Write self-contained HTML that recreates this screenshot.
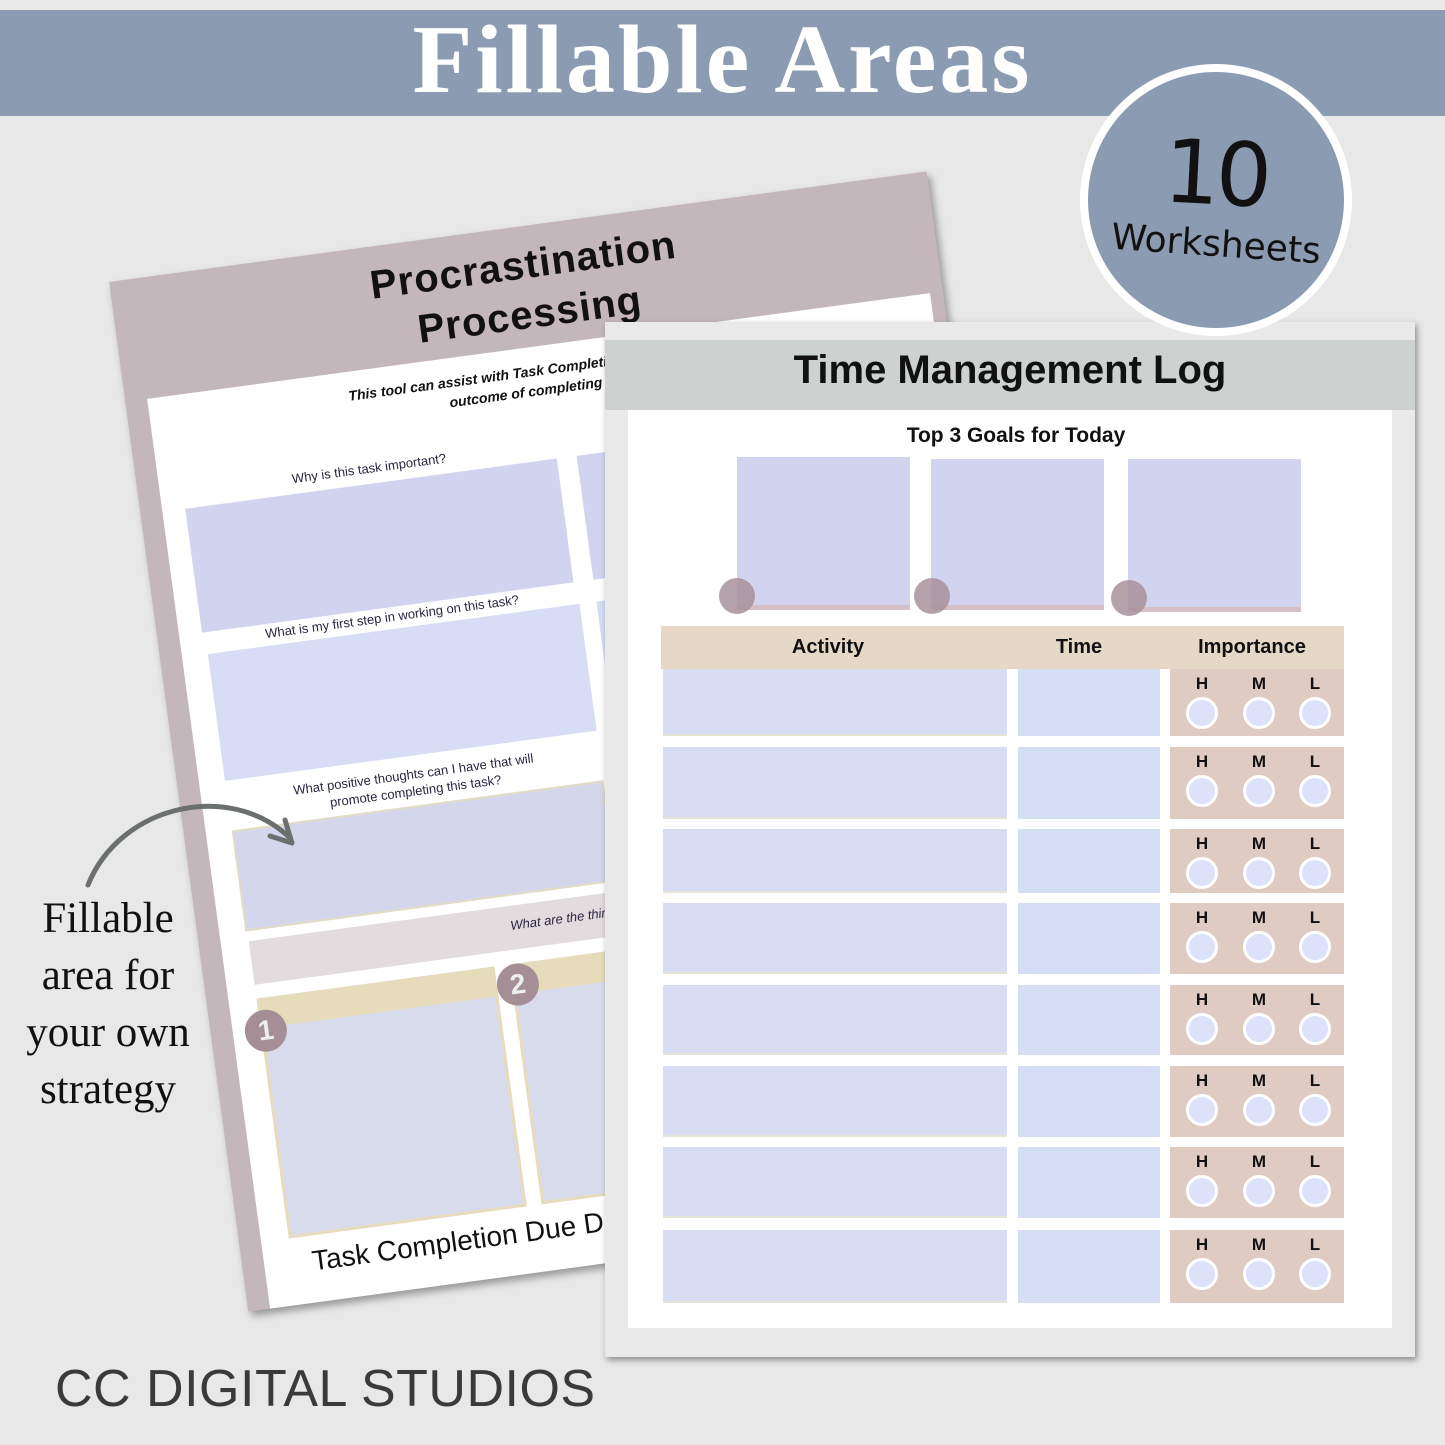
<!DOCTYPE html>
<html><head><meta charset="utf-8"><style>
*{margin:0;padding:0;box-sizing:border-box}
body{width:1445px;height:1445px;background:#e8e8e8;position:relative;overflow:hidden;font-family:"Liberation Sans",sans-serif}
.a{position:absolute}
.lbl{position:absolute;font-size:13px;color:#2a2540;text-align:center}
.hml{position:absolute;font-weight:bold;font-size:17px;color:#111;text-align:center;width:30px}
.c{position:absolute;width:32px;height:32px;border-radius:50%;background:#dde2fb;border:3px solid #fff}
</style></head><body>
<div class="a" style="left:0;top:10px;width:1445px;height:106px;background:#8a9bb2"></div>
<div class="a" style="left:0;top:4px;width:1445px;text-align:center;font-family:'Liberation Serif',serif;font-weight:bold;font-size:98px;color:#fff;letter-spacing:3px">Fillable Areas</div>

<!-- left sheet -->
<div class="a" style="left:175px;top:222px;width:825px;height:1039px;background:#c4b7bb;transform:rotate(-7.7deg);box-shadow:3px 5px 8px rgba(0,0,0,.35)">
  <div class="a" style="left:0;top:14px;width:825px;text-align:center;font-weight:bold;font-size:40px;line-height:50px;color:#111;letter-spacing:1px">Procrastination<br>Processing</div>
  <div class="a" style="left:22px;top:121px;width:790px;height:918px;background:#fff"></div>
  <div class="lbl" style="left:40px;top:135px;width:760px;font-weight:bold;font-style:italic;font-size:14px;line-height:20px;color:#111">This tool can assist with Task Completion by evaluating the<br>outcome of completing a task</div>
  <div class="lbl" style="left:45px;top:212px;width:375px">Why is this task important?</div>
  <div class="a" style="left:45px;top:235px;width:375px;height:125px;background:#d2d3ee"></div>
  <div class="a" style="left:440px;top:235px;width:375px;height:125px;background:#d2d3ee"></div>
  <div class="lbl" style="left:48px;top:362px;width:375px">What is my first step in working on this task?</div>
  <div class="a" style="left:48px;top:382px;width:375px;height:128px;background:#d6ddf4"></div>
  <div class="a" style="left:440px;top:382px;width:375px;height:128px;background:#d6ddf4"></div>
  <div class="lbl" style="left:48px;top:520px;width:375px;line-height:17px">What positive thoughts can I have that will<br>promote completing this task?</div>
  <div class="a" style="left:48px;top:560px;width:375px;height:102px;background:#d4d6ec;border:2px solid #e3dcc4"></div>
  <div class="a" style="left:50px;top:672px;width:770px;height:44px;background:#e2dcdf"></div>
  <div class="lbl" style="left:50px;top:684px;width:770px;font-style:italic">What are the things I can commit to doing?</div>
  <div class="a" style="left:50px;top:730px;width:240px;height:242px;background:#d8dbeb;border:3px solid #e6dcbc;border-top:30px solid #e6dcbc"></div>
  <div class="a" style="left:305px;top:730px;width:240px;height:242px;background:#d8dbeb;border:3px solid #e6dcbc;border-top:30px solid #e6dcbc"></div>
  <div class="a" style="left:34px;top:742px;width:42px;height:42px;border-radius:50%;background:#a58e96;color:#eee;font-weight:bold;font-size:28px;text-align:center;line-height:42px">1</div>
  <div class="a" style="left:290px;top:730px;width:42px;height:42px;border-radius:50%;background:#a58e96;color:#eee;font-weight:bold;font-size:28px;text-align:center;line-height:42px">2</div>
  <div class="a" style="left:70px;top:982px;font-size:28px;color:#111">Task Completion Due Date</div>
</div>

<!-- arrow -->
<svg class="a" style="left:0;top:0" width="1445" height="1445"><path d="M88 885 C120 805 230 780 290 838" fill="none" stroke="#6b706f" stroke-width="5" stroke-linecap="round"/><path d="M270 836 L292 843 L285 820" fill="none" stroke="#6b706f" stroke-width="5" stroke-linecap="round" stroke-linejoin="round"/></svg>
<div class="a" style="left:0;top:890px;width:216px;text-align:center;font-family:'Liberation Serif',serif;font-size:43px;line-height:57px;color:#111">Fillable<br>area for<br>your own<br>strategy</div>

<!-- right sheet -->
<div class="a" style="left:605px;top:322px;width:810px;height:1035px;background:#e9e9e9;box-shadow:2px 3px 6px rgba(0,0,0,.4)"></div>
<div class="a" style="left:605px;top:340px;width:810px;height:70px;background:#cdd1d0"></div>
<div class="a" style="left:605px;top:348px;width:810px;text-align:center;font-weight:bold;font-size:40px;color:#111">Time Management Log</div>
<div class="a" style="left:628px;top:410px;width:764px;height:918px;background:#fff"></div>
<div class="a" style="left:628px;top:424px;width:776px;text-align:center;font-weight:bold;font-size:21px;color:#111">Top 3 Goals for Today</div>
<div class="a" style="left:737px;top:457px;width:173px;height:153px;background:#d2d3ee;border-bottom:5px solid #d6c0c6"></div>
<div class="a" style="left:931px;top:459px;width:173px;height:151px;background:#d2d3ee;border-bottom:5px solid #d6c0c6"></div>
<div class="a" style="left:1128px;top:459px;width:173px;height:153px;background:#d2d3ee;border-bottom:5px solid #d6c0c6"></div>
<div class="a" style="left:719px;top:578px;width:36px;height:36px;border-radius:50%;background:#a8919a;opacity:.85"></div>
<div class="a" style="left:914px;top:578px;width:36px;height:36px;border-radius:50%;background:#a8919a;opacity:.85"></div>
<div class="a" style="left:1111px;top:580px;width:36px;height:36px;border-radius:50%;background:#a8919a;opacity:.85"></div>
<div class="a" style="left:661px;top:626px;width:683px;height:43px;background:#e6d8c6"></div>
<div class="a" style="left:663px;top:636px;width:330px;text-align:center;font-weight:bold;font-size:20px;color:#111">Activity</div>
<div class="a" style="left:1018px;top:636px;width:122px;text-align:center;font-weight:bold;font-size:20px;color:#111">Time</div>
<div class="a" style="left:1170px;top:636px;width:164px;text-align:center;font-weight:bold;font-size:20px;color:#111">Importance</div>

<div id="rows"></div>
<script>
var r=[[669,736],[747,819],[829,893],[903,974],[985,1055],[1066,1137],[1147,1218],[1230,1303]],h='';
r.forEach(function(a){var t=a[0],H=a[1]-a[0];
h+='<div class="a" style="left:663px;top:'+t+'px;width:344px;height:'+H+'px;background:#d8ddf3;border-bottom:2px solid #e5e2d6"></div>';
h+='<div class="a" style="left:1018px;top:'+t+'px;width:142px;height:'+H+'px;background:#d6def6"></div>';
h+='<div class="a" style="left:1170px;top:'+t+'px;width:174px;height:'+H+'px;background:#dfcbc1"></div>';
[1202,1259,1315].forEach(function(x,i){
h+='<div class="hml" style="left:'+(x-15)+'px;top:'+(t+5)+'px">'+'HML'[i]+'</div>';
h+='<div class="c" style="left:'+(x-16)+'px;top:'+(t+28)+'px"></div>';});});
document.getElementById('rows').innerHTML=h;
</script>

<!-- badge -->
<div class="a" style="left:1080px;top:64px;width:272px;height:272px;border-radius:50%;background:#8a9bb2;border:8px solid #fff"></div>
<div class="a" style="left:1080px;top:122px;width:272px;text-align:center;font-family:'DejaVu Sans',sans-serif;font-size:88px;color:#111;letter-spacing:-4px;transform:rotate(3deg)">10</div>
<div class="a" style="left:1080px;top:224px;width:272px;text-align:center;font-family:'DejaVu Sans',sans-serif;font-size:36px;color:#111;transform:rotate(4deg)">Worksheets</div>

<div class="a" style="left:55px;top:1359px;font-size:52px;color:#3a3a3a;letter-spacing:0.5px">CC DIGITAL STUDIOS</div>
</body></html>
